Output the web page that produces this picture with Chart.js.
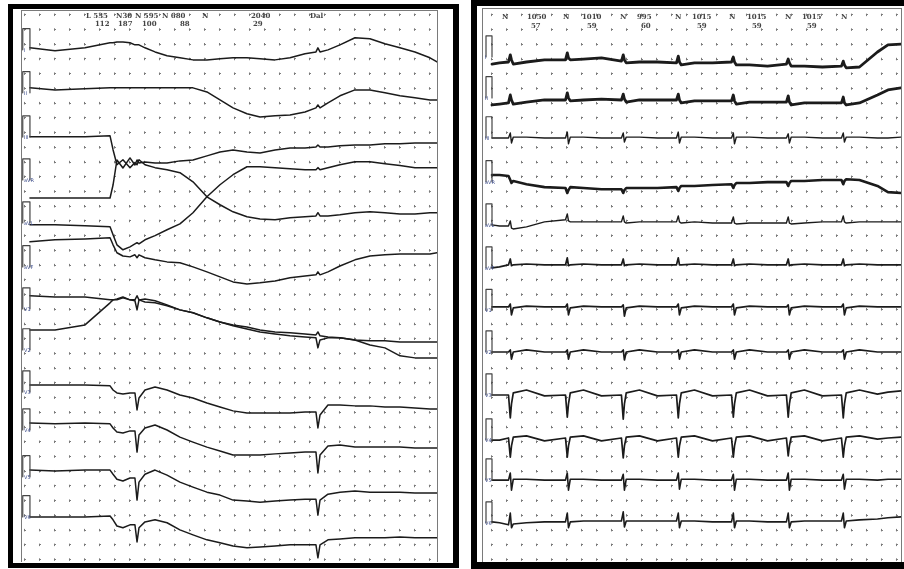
<!DOCTYPE html>
<html lang="en">
<head>
<meta charset="UTF-8">
<title>ECG strips</title>
<script src="https://cdn.jsdelivr.net/npm/chart.js@4.4.1/dist/chart.umd.min.js"></script>
<style>
  body { margin: 0; background: #fff; width: 904px; height: 569px; overflow: hidden; position: relative; }
  .frame { position: absolute; border: solid #000; box-sizing: border-box; }
  .inner { position: absolute; border: 1px solid #7a7a7a; border-bottom: none; box-sizing: border-box; }
  .inner canvas { position: absolute; left: 0; top: 0; }
  .hdr { position: absolute; font: bold 7px/7px 'DejaVu Serif', serif; color: #444; white-space: nowrap; }
  .lead { position: absolute; font: 5px/5px 'DejaVu Sans', sans-serif; color: #3a4a8a; white-space: nowrap; }
</style>
</head>
<body>
<div class="frame" style="left:8px;top:4px;width:451px;height:564px;border-width:5px 6px 5px 5px;"></div>
<div class="frame" style="left:471px;top:0;width:445px;height:569px;border-width:6px 0 7px 6px;"></div>
<div class="inner" style="left:21px;top:10px;width:417px;height:552px;"><canvas id="leftStrip" width="415" height="551"></canvas></div>
<div class="inner" style="left:482px;top:8px;width:420px;height:554px;"><canvas id="rightStrip" width="418" height="553"></canvas></div>
<div id="labels"></div>

<script>
// time axis in grid columns, voltage in mm (5 mm per grid row)
const leftTime = [0.33, 2.0, 4.0, 5.67, 5.87, 6.13, 6.53, 7.0, 7.33, 7.47, 7.6, 8.0, 8.67, 9.47, 10.33, 11.2, 12.13, 13.0,
  13.87, 14.8, 15.67, 16.67, 17.67, 18.67, 19.4, 19.53, 19.67, 20.2, 21.0, 22.0, 23.0, 24.0, 25.0, 26.0, 27.0, 27.47];
const leftBase = [173.8, 160.2, 143.6, 122.8, 113.7, 107.9, 89.9, 78.0, 59.3, 46.4, 30.4, 14.5];
const leftI   = [0, -1, 0, 1.7, 1.7, 2, 2, 1.7, 1, 1, 1, 0, -1.4, -2.7, -3.4, -4.1, -4.1, -3.7, -3.4, -3.4, -3.7, -4.1, -3.4, -2, -1.4, 0, -1.4, -0.7, 1, 3.4, 3.1, 1.4, 0, -1.4, -3.4, -4.8];
const leftII  = [0, -0.7, -0.3, 0, 0, 0, 0, 0, 0, 0, 0, 0, 0, 0, 0, 0, -1.4, -4.1, -6.8, -8.8, -9.9, -9.5, -9.2, -8.2, -6.8, -5.8, -6.8, -5.1, -2.7, -0.7, -0.7, -1.7, -2.7, -3.4, -4.1, -4.1];
const leftIII = [0, 0, 0, 0.3, -4.4, -9.5, -7.8, -10.5, -8.8, -9.5, -7.8, -9.5, -10.5, -11.2, -12.2, -15.3, -20.4, -23.1, -25.5, -27.2, -27.9, -28.2, -27.5, -27.2, -26.9, -25.8, -26.9, -26.9, -26.5, -25.8, -25.5, -25.8, -26.2, -26.2, -25.8, -25.8];
const leftAVR = [0, 0, 0, 0, 4.4, 12.9, 10.2, 13.6, 11.2, 12.9, 11.9, 12.2, 11.9, 11.9, 12.6, 12.9, 14.3, 15.6, 16.3, 15.6, 15.3, 16.3, 17, 17, 17.3, 18, 17.3, 17.3, 17.7, 18, 18, 18.4, 18.4, 18.7, 18.7, 18.7];
const leftAVL = [0, 0, -0.3, -0.7, -3.4, -6.8, -8.5, -7.5, -6.5, -6.1, -6.5, -5.1, -3.7, -1.7, 0.3, 4.1, 9.5, 13.6, 17, 19.7, 19.7, 19.4, 19, 18.7, 18.7, 19.4, 18.7, 19.4, 20.4, 21.4, 21.4, 20.7, 20.1, 19.4, 19.4, 19.4];
const leftAVF = [0, 0.7, 1, 1.4, -1, -3.7, -4.8, -5.1, -4.4, -5.4, -4.4, -5.4, -6.1, -6.8, -7.1, -8.5, -10.2, -11.9, -13.6, -14.3, -13.9, -13.3, -12.2, -11.6, -11.2, -10.2, -11.2, -10.2, -8.2, -6.1, -4.8, -4.4, -4.1, -4.1, -4.1, -3.7];
const leftV1  = [-0.3, -0.7, -0.7, -1.7, -1.7, -1.7, -1, -1.7, -1.7, -0.3, -1.7, -2.4, -2.7, -3.7, -5.1, -6.1, -7.8, -9.2, -10.2, -10.9, -11.9, -12.6, -12.9, -13.3, -13.6, -12.6, -13.9, -14.3, -14.6, -15.3, -15.6, -15.6, -16, -16, -16, -16];
const leftV2  = [0, 0, 1.7, 9.2, 10.2, 10.5, 11.2, 10.2, 9.9, 6.8, 10.2, 10.5, 9.9, 8.5, 6.8, 5.8, 4.1, 2.7, 1.4, 0.3, -0.7, -1.4, -2, -2.4, -2.7, -6.1, -3.4, -2.7, -2.7, -3.4, -5.1, -6.1, -8.8, -9.5, -9.5, -9.5];
const leftV3  = [0, 0, 0, -0.3, -1.7, -2.7, -3.1, -2.7, -2.7, -8.5, -4.4, -1.7, -0.7, -1.7, -3.4, -4.4, -6.1, -7.5, -8.8, -9.5, -9.5, -9.5, -9.5, -9.2, -9.2, -14.6, -10.2, -6.8, -6.8, -7.1, -7.1, -7.5, -7.5, -7.8, -8.2, -8.2];
const leftV4  = [0, -0.3, 0, -0.3, -1.7, -3.1, -3.4, -2.7, -2.7, -9.9, -4.1, -1.7, -0.7, -2.4, -4.8, -6.5, -8.2, -9.5, -10.9, -10.9, -10.9, -10.5, -10.2, -9.9, -9.9, -17, -10.9, -7.8, -7.5, -8.2, -8.2, -8.2, -8.2, -8.5, -8.5, -8.5];
const leftV5  = [0, -0.3, 0, 0, -1.4, -3.1, -3.7, -2.7, -2.7, -10.2, -4.1, -1.4, 0, -1.7, -4.1, -5.8, -7.5, -8.5, -10.2, -10.5, -10.9, -10.5, -10.2, -9.9, -9.9, -15.3, -10.2, -8.2, -7.5, -7.1, -7.5, -7.5, -7.5, -7.8, -7.8, -7.8];
const leftV6  = [0, 0, 0, 0.3, -1, -3.1, -3.7, -2.7, -2.7, -8.5, -3.7, -1.7, -1, -2, -4.4, -6.1, -7.8, -8.8, -9.9, -10.5, -10.2, -9.9, -9.5, -9.5, -9.5, -13.9, -9.5, -7.8, -7.5, -7.1, -7.1, -7.1, -6.8, -7.1, -7.1, -7.1];
const leftCalTime = [-0.15, -0.15, 0.33, 0.33];
const leftCalBase = [173.1, 158.5, 143.5, 128.9, 114.3, 99.4, 85.1, 71.2, 56.9, 44.0, 28.1, 14.5];

const rightTime = [0, 0.5,
  1.1, 1.22, 1.3, 1.42, 2.3, 3.5,
  4.9, 5.02, 5.1, 5.22, 6.1, 7.3,
  8.63, 8.75, 8.83, 8.95, 9.83, 11.03,
  12.3, 12.42, 12.5, 12.62, 13.5, 14.7,
  15.97, 16.09, 16.17, 16.29, 17.17, 18.37,
  19.63, 19.75, 19.83, 19.95, 20.83, 22.03,
  23.3, 23.42, 23.5, 23.62, 24.5, 25.7,
  26.4, 27.27];
const rightBase = [169.0, 156.1, 143.2, 130.6, 114.0, 100.1, 85.8, 70.5, 55.9, 40.6, 27.0, 12.8];
const rightI   = [-0.7, -0.3, 0, 2.4, 0.7, -0.7, 0, 0.7, 0.7, 3.1, 1.4, 0.7, 1, 1.4, 0.3, 2.4, 0.7, -0.3, 0, 0, -0.3, 2, 0, -1, -0.3, -0.3, 0, 1.7, 0, -1, -1, -1.4, -0.7, 1, -0.3, -1.4, -1.4, -1.7, -1.4, 0.3, -1, -2, -1.7, 3.4, 5.8, 6.1];
const rightII  = [-1.7, -1.4, -1, 1.7, 0, -1.4, -0.7, 0, 0, 2.4, 0.7, -0.3, 0, 0.3, 0, 2, 0.3, -0.7, 0, 0, 0, 2, 0, -1, -0.3, -0.3, -0.3, 1.7, -0.3, -1.4, -0.7, -0.7, -0.7, 1.4, -0.7, -1.7, -1, -1, -1, 1, -1, -1.7, -1, 1.7, 3.4, 4.1];
const rightIII = [0, 0, 0, 1.7, -1.7, 0.3, 0.3, 0, 0, 2, -2, 0.3, 0.3, 0, 0, 1.7, -1.4, 0.3, 0.3, 0, 0, 2, -1.7, 0.3, 0.3, 0, 0, 1.7, -2, 0.3, 0.3, 0, 0, 1.4, -1.7, 0.3, 0.3, 0, 0, 1.7, -1.4, 0.3, 0.3, 0, 0, 0.3];
const rightAVR = [0, 0, -0.3, -1.7, -2.7, -2, -3.1, -4.1, -4.4, -6.1, -5.1, -4.1, -4.4, -4.8, -4.8, -6.1, -5.1, -4.4, -4.4, -4.4, -4.1, -5.4, -4.4, -3.7, -3.7, -3.4, -3.1, -4.4, -3.4, -2.7, -2.7, -2.4, -2.4, -3.7, -2.7, -2, -2, -1.7, -1.7, -3.1, -2, -1.4, -1.7, -3.7, -5.8, -6.1];
const rightAVL = [-0.3, -0.7, -0.7, 1, -1.4, -1.7, -1, 0.7, 1.4, 3.4, 1, 0.7, 0.7, 0.7, 0.7, 2.7, 0.7, 0.3, 0.7, 0.7, 0.7, 2.7, 0.7, 0.3, 0.7, 0.3, 0.3, 2.4, 0.3, 0, 0.3, 0.3, 0.3, 2.4, 0.3, 0, 0.3, 0.7, 0.7, 2.7, 0.7, 0.3, 0.7, 0.7, 0.7, 0.7];
const rightAVF = [-1, -0.7, 0, 2, -0.3, 0, 0.3, 0, 0, 2.4, -0.3, 0, 0.3, 0, 0, 2, -0.3, 0, 0.3, 0, 0, 2.4, 0, 0, 0.3, 0, 0, 2, -0.3, 0, 0.3, 0, 0, 2, -0.3, 0, 0.3, 0, 0, 2, -0.3, 0, 0.3, 0, 0, 0];
const rightV1  = [0, 0, 0, 1, -2.7, -0.3, 0.3, 0, 0, 1, -2.7, -0.3, 0.3, 0, 0, 0.7, -3.1, -0.3, 0.3, 0, 0, 1, -2.7, -0.3, 0.3, 0, 0, 1, -2.7, -0.3, 0.3, 0, 0, 0.7, -2.7, -0.3, 0.3, 0, 0, 1, -2.7, -0.3, 0.3, 0, 0, 0];
const rightV2  = [0, 0, 0, 0.7, -2.4, 0, 0.7, 0, 0, 0.7, -2.4, 0, 0.7, 0, 0, 0.7, -2.7, 0, 0.7, 0, 0, 0.7, -2.4, 0, 0.7, 0, 0, 0.7, -2.4, 0, 0.7, 0, 0, 0.7, -2.4, 0, 0.7, 0, 0, 0.7, -2.4, 0, 0.7, 0, 0, 0];
const rightV3  = [0, 0, 0, -7.8, -3, 0.7, 1.7, -0.3, 0, -7.5, -3, 0.7, 1.7, -0.3, 0, -8.2, -3, 0.7, 1.7, -0.3, 0, -7.8, -3, 0.7, 1.7, -0.3, 0, -7.5, -3, 0.7, 1.7, -0.3, 0, -7.5, -3, 0.7, 1.7, -0.3, 0, -7.8, -3, 0.7, 1.7, 0.3, 1, 1.4];
const rightV4  = [0, 0, 0.7, -5.8, -2, 1, 1.4, -0.3, 0.7, -5.8, -2, 1, 1.4, -0.3, 0.7, -6.1, -2, 1, 1.4, -0.3, 0.7, -5.8, -2, 1, 1.4, -0.3, 0.7, -5.8, -2, 1, 1.4, -0.3, 0.7, -5.4, -2, 1, 1.4, -0.3, 0.7, -5.8, -2, 1, 1.4, 0.3, 0.7, 1];
const rightV5  = [0, 0, 0, 2.4, -3.4, 0.3, 0.3, 0, 0, 2.4, -3.4, 0.3, 0.3, 0, 0, 2, -3.4, 0.3, 0.3, 0, 0, 2.4, -3.1, 0.3, 0.3, 0, 0, 2, -3.4, 0.3, 0.3, 0, 0, 2.4, -3.4, 0.3, 0.3, 0, 0, 2, -3.1, 0.3, 0.3, 0, 0.3, 0.3];
const rightV6  = [0, -0.3, -1, 3, -2, -0.7, -0.3, 0, 0, 3, -2, 0, 0.3, 0.3, 0.3, 3.4, -1.7, 0.3, 0.3, 0.3, 0.3, 3, -2, 0.3, 0.3, 0, 0, 3, -2, 0.3, 0.3, 0, 0, 3, -2, 0, 0.3, 0.3, 0.3, 3, -2, 0.3, 0.7, 1, 1.4, 1.7];
const rightCalTime = [-0.4, -0.4, 0, 0];
const rightCalBase = [170.7, 156.8, 143.2, 128.3, 113.6, 99.0, 84.6, 70.5, 55.9, 40.6, 27.0, 12.4];

const calPulse = [0, 7.2, 7.2, 0];
const leadNames = ['I', 'II', 'III', 'aVR', 'aVL', 'aVF', 'V1', 'V2', 'V3', 'V4', 'V5', 'V6'];

const leftHeader = [['L 535', 86, 12], ['N30', 116, 12], ['N 595', 135, 12], ['N 680', 162, 12], ['N', 202, 12], ['2040', 251, 12], ['Dal', 310, 12],
  ['112', 95, 20], ['187', 118, 20], ['100', 142, 20], ['88', 180, 20], ['29', 253, 20]];
const rightHeader = [['N', 502, 13], ['1050', 527, 13], ['N', 563, 13], ['1010', 582, 13], ['N', 620, 13], ['995', 637, 13], ['N', 675, 13],
  ['1015', 692, 13], ['N', 729, 13], ['1015', 747, 13], ['N', 785, 13], ['1015', 802, 13], ['N', 841, 13],
  ['57', 531, 22], ['59', 587, 22], ['60', 641, 22], ['59', 697, 22], ['59', 752, 22], ['59', 807, 22]];
const leftLeadTop = [50, 93, 137, 180, 223, 267, 309, 350, 392, 430, 477, 517];
const rightLeadTop = [57, 98, 138, 182, 225, 268, 310, 352, 395, 440, 480, 523];

const leftLeads = [leftI, leftII, leftIII, leftAVR, leftAVL, leftAVF, leftV1, leftV2, leftV3, leftV4, leftV5, leftV6];
const rightLeads = [rightI, rightII, rightIII, rightAVR, rightAVL, rightAVF, rightV1, rightV2, rightV3, rightV4, rightV5, rightV6];
const leftWidths = [1.5, 1.5, 1.5, 1.5, 1.5, 1.5, 1.5, 1.5, 1.5, 1.5, 1.5, 1.5];
const rightWidths = [2.8, 2.8, 1.4, 2.6, 1.4, 1.7, 1.7, 1.7, 1.7, 1.7, 1.6, 1.6];

const markColor = '#7a7a7a';
const markLen = 2.5;

function makeStrip(id, time, leads, bases, calTime, calBases, widths, xMin, xMax, yMin, yMax) {
  const canvas = document.getElementById(id);
  const datasets = [];
  calBases.forEach(b => {
    datasets.push({
      data: calTime.map((t, i) => ({ x: t, y: b + calPulse[i] })),
      borderColor: '#444', borderWidth: 1.2
    });
  });
  leads.forEach((lead, k) => {
    datasets.push({
      data: time.map((t, i) => ({ x: t, y: bases[k] + lead[i] })),
      borderColor: '#1b1b1b', borderWidth: widths[k]
    });
  });

  // dotted grid: short dashes centred on the grid crossings
  const colPx = canvas.width / (xMax - xMin);
  const mmPx = canvas.height / (yMax - yMin);
  const rowPx = 5 * mmPx;
  const firstCol = (Math.ceil(xMin) - xMin) * colPx;
  const firstRow = (yMax - Math.floor(yMax / 5) * 5) * mmPx;
  const xTicks = [];
  for (let v = Math.ceil(xMin); v <= xMax; v++) xTicks.push({ value: v });
  const yTicks = [];
  for (let v = 0; v <= yMax; v += 5) yTicks.push({ value: v });

  new Chart(canvas, {
    type: 'line',
    data: { datasets },
    options: {
      responsive: false,
      animation: false,
      events: [],
      layout: { padding: 0 },
      elements: { point: { radius: 0 }, line: { tension: 0, borderJoinStyle: 'round', borderCapStyle: 'round' } },
      plugins: { legend: { display: false }, tooltip: { enabled: false } },
      scales: {
        x: {
          type: 'linear', min: xMin, max: xMax,
          afterBuildTicks: s => { s.ticks = xTicks; },
          ticks: { display: false },
          grid: { color: markColor, lineWidth: 1, drawTicks: false },
          border: { display: false, dash: [markLen, rowPx - markLen], dashOffset: rowPx + markLen / 2 - firstRow }
        },
        y: {
          type: 'linear', min: yMin, max: yMax,
          afterBuildTicks: s => { s.ticks = yTicks; },
          ticks: { display: false },
          grid: { color: markColor, lineWidth: 1, drawTicks: false },
          border: { display: false, dash: [2, colPx - 2], dashOffset: colPx + 1 - firstCol }
        }
      }
    }
  });
}

makeStrip('leftStrip', leftTime, leftLeads, leftBase, leftCalTime, leftCalBase, leftWidths, -0.2, 27.47, -0.82, 186.3);
makeStrip('rightStrip', rightTime, rightLeads, rightBase, rightCalTime, rightCalBase, rightWidths, -0.6, 27.27, -0.82, 187.0);

const labels = document.getElementById('labels');
function addText(cls, text, x, y) {
  const s = document.createElement('span');
  s.className = cls;
  s.textContent = text;
  s.style.left = x + 'px';
  s.style.top = y + 'px';
  labels.appendChild(s);
}
leftHeader.forEach(h => addText('hdr', h[0], h[1], h[2]));
rightHeader.forEach(h => addText('hdr', h[0], h[1], h[2]));
leadNames.forEach((n, k) => {
  addText('lead', n, 24, leftLeadTop[k] - 2);
  addText('lead', n, 485, rightLeadTop[k] - 2);
});
</script>
</body>
</html>
